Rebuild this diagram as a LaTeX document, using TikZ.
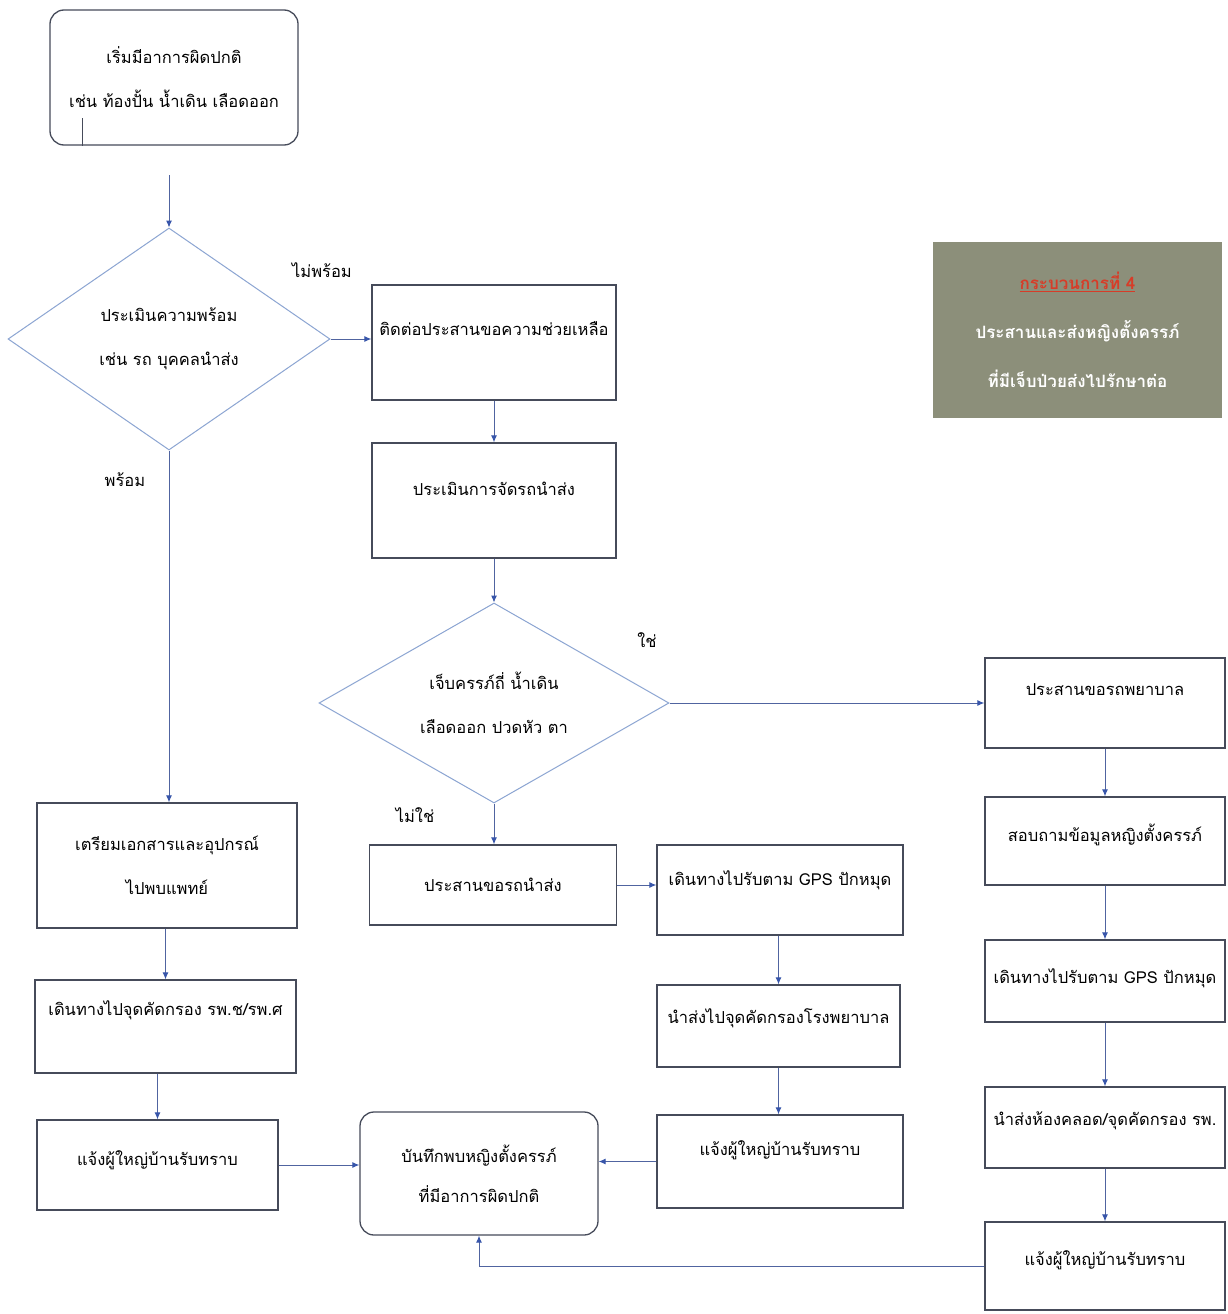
\documentclass[tikz,border=0pt]{standalone}
\usepackage{fontspec}
\newfontfamily\thai[Script=Thai]{Loma}
\usetikzlibrary{shapes.geometric,arrows.meta,calc}
\definecolor{boxline}{RGB}{70,75,90}
\definecolor{dline}{RGB}{140,165,210}
\definecolor{conn}{RGB}{80,100,160}
\definecolor{tipc}{RGB}{55,85,170}
\definecolor{olivebg}{RGB}{140,143,122}
\definecolor{headred}{RGB}{215,60,40}
\begin{document}
\begin{tikzpicture}[x=1pt,y=-1pt,
 every node/.style={font=\thai\fontsize{16.5}{44}\selectfont},
 box/.style={draw=boxline, line width=1.3pt, fill=white, inner sep=0pt, align=center},
 rbox/.style={box, rounded corners=14pt},
 dec/.style={diamond, draw=dline, line width=1pt, inner sep=0pt, align=center},
 arr/.style={draw=conn, line width=1pt, -{Latex[length=7pt,width=6pt,color=tipc]}},
 lbl/.style={inner sep=0pt},
]
\useasboundingbox[fill=white] (0,0) rectangle (1228,1314);

% start
\node[rbox, minimum width=248pt, minimum height=135pt] (s) at (174,77.5) {เริ่มมีอาการผิดปกติ\\เช่น ท้องปั้น น้ำเดิน เลือดออก};
\coordinate (art) at (82,118);
\draw[draw=boxline, line width=0.9pt] (art) -- (art |- s.south);
\coordinate (s0) at (169,175);

% decision 1
\node[dec, aspect=1.45, minimum width=322pt, minimum height=222pt] (d1) at (169,339) {ประเมินความพร้อม\\เช่น รถ บุคคลนำส่ง};

% centre column
\node[box, minimum width=244pt, minimum height=115pt, text depth=28pt] (c1) at (494,342.5) {ติดต่อประสานขอความช่วยเหลือ};
\node[box, minimum width=244pt, minimum height=115pt, text depth=24pt] (c2) at (494,500.5) {ประเมินการจัดรถนำส่ง};
\node[dec, aspect=1.75, minimum width=350pt, minimum height=200pt] (d2) at (494,703) {เจ็บครรภ์ถี่ น้ำเดิน\\เลือดออก ปวดหัว ตา};
\node[box, minimum width=247pt, minimum height=80pt] (m1) at (493,885) {ประสานขอรถนำส่ง};
\node[box, minimum width=246pt, minimum height=90pt, text depth=24pt] (m2) at (780,890) {เดินทางไปรับตาม GPS ปักหมุด};
\node[box, minimum width=243pt, minimum height=82pt, text depth=20pt] (m3) at (778.5,1026) {นำส่งไปจุดคัดกรองโรงพยาบาล};
\node[box, minimum width=246pt, minimum height=93pt, text depth=26pt] (m4) at (780,1161.5) {แจ้งผู้ใหญ่บ้านรับทราบ};

% right column
\node[box, minimum width=240pt, minimum height=90pt, text depth=26pt] (r1) at (1105,703) {ประสานขอรถพยาบาล};
\node[box, minimum width=240pt, minimum height=88pt, text depth=16pt] (r2) at (1105,841) {สอบถามข้อมูลหญิงตั้งครรภ์};
\node[box, minimum width=240pt, minimum height=82pt, text depth=10pt] (r3) at (1105,981) {เดินทางไปรับตาม GPS ปักหมุด};
\node[box, minimum width=240pt, minimum height=81pt, text depth=18pt] (r4) at (1105,1127.5) {นำส่งห้องคลอด/จุดคัดกรอง รพ.};
\node[box, minimum width=240pt, minimum height=88pt, text depth=16pt] (r5) at (1105,1266) {แจ้งผู้ใหญ่บ้านรับทราบ};

% left column
\node[box, minimum width=260pt, minimum height=125pt] (l1) at (167,865.5) {เตรียมเอกสารและอุปกรณ์\\ไปพบแพทย์};
\node[box, minimum width=261pt, minimum height=93pt, text depth=36pt] (l2) at (165.5,1026.5) {เดินทางไปจุดคัดกรอง รพ.ช/รพ.ศ};
\node[box, minimum width=241pt, minimum height=90pt, text depth=14pt] (l3) at (157.5,1165) {แจ้งผู้ใหญ่บ้านรับทราบ};

% record
\node[rbox, minimum width=238pt, minimum height=123pt, font=\thai\fontsize{16.5}{40}\selectfont] (rec) at (479,1173.5) {บันทึกพบหญิงตั้งครรภ์\\ที่มีอาการผิดปกติ};

% title box
\node[fill=olivebg, minimum width=289pt, minimum height=176pt, inner sep=0pt, align=center, text=white, font=\thai\bfseries\fontsize{17}{49}\selectfont] (t) at (1077.5,330) {{\color{headred}\underline{กระบวนการที่ 4}}\\ประสานและส่งหญิงตั้งครรภ์\\ที่มีเจ็บป่วยส่งไปรักษาต่อ};

% labels
\node[lbl] (n1) at (322,270) {ไม่พร้อม};
\node[lbl] (y1) at (125,480) {พร้อม};
\node[lbl] (y2) at (647,640) {ใช่};
\node[lbl] (n2) at (415,815) {ไม่ใช่};

% connectors
\draw[arr] (s0) -- (d1.north);
\draw[arr] (d1.east) -- (d1.east -| c1.west);
\draw[arr] (d1.south) -- (d1.south |- l1.north);
\draw[arr] (c1.south) -- (c2.north);
\draw[arr] (c2.south) -- (d2.north);
\draw[arr] (d2.east) -- (r1.west);
\draw[arr] (d2.south) -- (d2.south |- m1.north);
\draw[arr] (m1.east) -- (m1.east -| m2.west);
\draw[arr] (m3.north |- m2.south) -- (m3.north);
\draw[arr] (m3.south) -- (m3.south |- m4.north);
\draw[arr] (m4.west) -- (m4.west -| rec.east);
\draw[arr] (r1.south) -- (r2.north);
\draw[arr] (r2.south) -- (r3.north);
\draw[arr] (r3.south) -- (r4.north);
\draw[arr] (r4.south) -- (r5.north);
\draw[arr] (r5.west) -| (rec.south);
\draw[arr] (l2.north |- l1.south) -- (l2.north);
\draw[arr] (l3.north |- l2.south) -- (l3.north);
\draw[arr] (l3.east) -- (l3.east -| rec.west);
\end{tikzpicture}
\end{document}
